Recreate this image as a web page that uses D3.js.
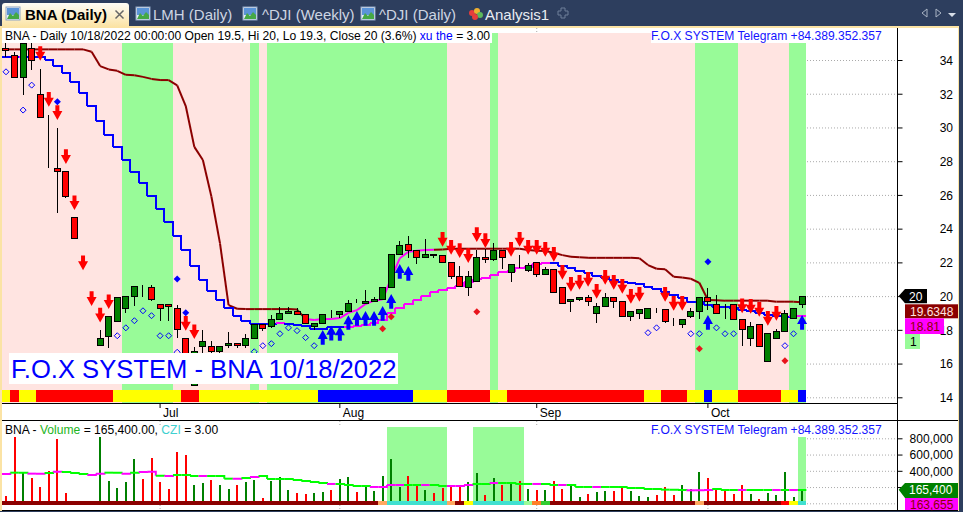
<!DOCTYPE html>
<html>
<head>
<meta charset="utf-8">
<script src="https://cdn.jsdelivr.net/npm/d3@7"></script>
<style>
html, body { margin: 0; padding: 0; background: #fff; overflow: hidden; }
svg { display: block; font-family: "Liberation Sans", Arial, sans-serif; }
</style>
</head>
<body>
<div id="chart"></div>
<script>
// bar data, oldest first
var opens = [34.69, 34.27, 32.97, 34.69, 31.96, 27.57, 27.57, 27.39, 24.67, 21.11,
    18.98, 17.06, 17.59, 18.48, 19.25, 19.99, 20.58, 20.52, 19.51, 19.51,
    19.28, 17.50, 14.69, 17.00, 17.02, 16.70, 17.06, 17.20, 17.06, 17.50,
    18.33, 18.21, 18.60, 18.98, 19.10, 18.92, 18.21, 18.39, 18.98, 18.92,
    19.07, 19.59, 19.57, 19.69, 19.81, 20.52, 22.45, 23.07, 22.71, 22.27,
    22.45, 22.42, 22.00, 21.17, 20.52, 20.88, 22.30, 22.18, 22.71, 21.41,
    21.88, 21.53, 22.00, 21.29, 21.59, 20.52, 19.69, 19.81, 19.93, 18.98,
    19.39, 19.93, 19.69, 18.80, 18.98, 18.68, 19.28, 19.22, 18.33, 18.33,
    18.80, 19.10, 19.93, 19.51, 19.47, 19.51, 18.62, 17.50, 18.33, 16.13,
    17.50, 17.91, 18.68, 19.5]
var highs = [35, 34.47, 35, 35, 33.46, 30.73, 29.94, 27.39, 24.67, 21.11,
    18.98, 17.99, 18.80, 19.93, 19.99, 20.58, 20.66, 20.66, 19.51, 19.51,
    19.47, 17.50, 17.00, 17.99, 17.34, 17.02, 17.87, 17.20, 17.75, 18.33,
    18.33, 18.88, 19.33, 19.33, 19.29, 18.92, 18.39, 18.92, 19.17, 19.10,
    19.77, 19.82, 20.36, 19.94, 20.52, 22.45, 23.24, 23.54, 22.71, 23.37,
    22.45, 22.42, 22.00, 21.76, 21.47, 22.73, 22.77, 23.13, 22.71, 21.88,
    22.42, 21.94, 22.00, 21.74, 21.59, 20.52, 19.81, 19.93, 20.05, 19.57,
    20.16, 19.93, 19.69, 19.10, 19.22, 19.28, 19.28, 19.22, 18.68, 18.62,
    19.28, 19.93, 20.46, 20.05, 19.51, 19.51, 18.62, 18.45, 18.33, 17.79,
    18.03, 19.16, 19.28, 20]
var lows = [34.17, 32.97, 31.92, 33.40, 30.60, 27.57, 24.94, 25.83, 23.42, 21.11,
    18.98, 17.06, 16.94, 18.48, 19.01, 19.43, 19.96, 19.71, 18.52, 18.52,
    17.53, 16.09, 14.69, 16.62, 16.62, 16.59, 16.94, 16.94, 16.94, 17.50,
    17.95, 18.09, 18.60, 18.98, 18.92, 18.39, 17.99, 18.39, 18.68, 18.68,
    19.07, 19.59, 19.57, 19.69, 19.81, 20.52, 22.45, 22.24, 21.92, 22.27,
    22.24, 22.00, 21.03, 20.58, 20.00, 20.88, 21.94, 22.06, 21.62, 20.85,
    21.64, 21.43, 21.15, 21.29, 20.22, 19.57, 19.04, 19.73, 19.41, 18.42,
    19.39, 19.31, 18.80, 18.54, 18.66, 18.68, 19.01, 18.40, 18.21, 18.09,
    18.68, 18.64, 19.17, 18.98, 18.64, 18.62, 17.04, 17.04, 17.02, 16.13,
    17.50, 17.91, 18.68, 19.3]
var closes = [34.57, 32.97, 35.00, 33.98, 30.60, 27.57, 27.39, 25.89, 23.42, 21.11,
    18.98, 17.50, 18.80, 19.93, 19.99, 20.58, 20.58, 19.81, 19.28, 19.39,
    18.03, 16.09, 16.73, 17.32, 16.70, 17.02, 17.20, 17.08, 17.50, 18.33,
    18.09, 18.62, 18.98, 19.10, 18.92, 18.39, 18.39, 18.92, 18.98, 19.10,
    19.57, 19.59, 19.69, 19.81, 20.52, 22.45, 23.01, 22.71, 22.27, 22.48,
    22.42, 22.00, 21.15, 20.58, 21.17, 22.30, 22.18, 22.71, 22.30, 21.88,
    21.88, 21.82, 21.29, 21.59, 20.22, 19.57, 19.81, 19.93, 19.69, 19.39,
    19.93, 19.69, 18.80, 19.10, 19.22, 19.28, 19.28, 18.48, 18.33, 18.62,
    19.10, 19.93, 19.69, 18.98, 19.47, 18.62, 18.03, 18.21, 17.02, 17.79,
    17.91, 18.98, 19.28, 20]

// the step line
var fastLine = [34.19, 34.19, 34.19, 34.19, 34.19, 33.98, 33.64, 33.20, 32.69, 32.02,
    31.27, 30.40, 29.55, 28.85, 28.07, 27.35, 26.68, 25.93, 25.16, 24.39,
    23.56, 22.73, 21.78, 20.95, 20.32, 19.77, 19.28, 18.82, 18.54, 18.34,
    18.34, 18.34, 18.40, 18.34, 18.28, 18.23, 18.07, 18.07, 18.17, 18.17,
    18.18, 18.21, 18.28, 18.42, 18.58, 19.01, 19.28, 19.53, 19.77, 20.00,
    20.22, 20.36, 20.46, 20.60, 20.85, 20.99, 21.09, 21.25, 21.44, 21.50,
    21.64, 21.74, 21.90, 21.98, 21.98, 21.78, 21.66, 21.50, 21.35, 21.21,
    21.05, 20.95, 20.85, 20.76, 20.72, 20.56, 20.40, 20.26, 20.06, 19.87,
    19.65, 19.65, 19.47, 19.37, 19.37, 19.28, 19.17, 19.11, 18.98, 18.88,
    18.84, 18.78, 18.82, 18.81]
var fastMagenta = [2, 32].concat(d3.range(40, 64), [92, 93])

// the long dark red line
var slowLine = [34.63, 34.63, 34.63, 34.63, 34.63, 34.63, 34.63, 34.63, 34.63, 34.63,
    34.49, 33.64, 33.44, 33.36, 33.12, 33.09, 33.00, 32.88, 32.81, 32.81,
    32.49, 31.27, 28.85, 28.07, 25.89, 23.13, 19.47, 19.25, 19.23, 19.23,
    19.23, 19.23, 19.23, 19.23, 19.20, 18.64, 18.58, 18.64, 18.64, 18.70,
    19.01, 19.17, 19.53, 19.73, 19.81, 21.07, 22.24, 22.63, 22.69, 22.73,
    22.75, 22.77, 22.81, 22.81, 22.81, 22.81, 22.81, 22.81, 22.81, 22.81,
    22.81, 22.73, 22.69, 22.67, 22.57, 22.43, 22.33, 22.30, 22.27, 22.27,
    22.27, 22.27, 22.27, 22.27, 22.24, 21.84, 21.62, 21.59, 21.15, 21.11,
    21.03, 20.79, 19.77, 19.75, 19.73, 19.73, 19.73, 19.73, 19.73, 19.73,
    19.67, 19.67, 19.67, 19.6348]
var slowMagenta = d3.range(36, 51)

// signals: [bar, price]
var sellArrows = [[4, 33.95], [5, 31.23], [6, 30.44], [7, 27.83], [8, 25.10], [9, 21.54], [10, 19.41], [11, 18.44], [12, 19.23],
    [21, 17.95], [22, 17.45], [51, 22.93], [52, 22.45], [53, 22.26], [54, 21.96], [55, 23.21], [56, 22.85],
    [59, 22.33], [60, 22.93], [61, 22.45], [62, 22.45], [63, 22.33], [64, 22.04], [65, 20.97], [66, 20.26],
    [67, 20.38], [68, 20.56], [69, 19.84], [70, 20.67], [71, 20.38], [72, 20.14], [73, 19.55], [74, 19.67],
    [77, 19.67], [78, 19.13], [79, 19.13], [86, 18.99], [87, 18.95], [88, 18.78], [89, 18.24], [90, 18.54]]
var buyArrows = [[37, 17.99], [38, 18.24], [39, 18.22], [40, 18.87], [41, 19.11], [42, 19.11], [43, 19.11], [44, 19.41],
    [45, 20.12], [46, 21.90], [47, 21.78], [82, 18.88], [93, 18.88]]
var hollowDiamonds = [[0, 33.30], [3, 32.51], [2, 31.03], [13, 17.65], [14, 18.12], [15, 18.54], [16, 19.13], [17, 18.84],
    [18, 17.65], [19, 17.65], [20, 16.67], [29, 16.70], [30, 17.06], [31, 17.18], [32, 17.77], [33, 18.12],
    [34, 17.95], [35, 17.54], [36, 17.06], [75, 17.83], [76, 18.12], [80, 17.77], [81, 17.77], [83, 18.12],
    [84, 17.77], [85, 17.77], [91, 17.06], [92, 17.77]]
var blueDiamonds = [[6, 31.52], [20, 21.01], [21, 19.01], [82, 22.04]]
var redDiamonds = [[44, 18.07], [45, 18.78], [55, 19.07], [81, 16.88], [91, 16.17]]

// background state per bar, runs of [first, last]
var greenRuns = [[14, 19], [29, 29], [31, 51], [57, 57], [81, 85], [92, 93]]
// ribbon under the price pane: [first, last, colour]
var ribbonRuns = [[0, 0, "#ffff00"], [1, 1, "#ff0000"], [2, 3, "#ffff00"], [4, 12, "#ff0000"], [13, 20, "#ffff00"],
    [21, 22, "#ff0000"], [23, 36, "#ffff00"], [37, 47, "#0000ff"], [48, 51, "#ffff00"], [52, 56, "#ff0000"],
    [57, 58, "#ffff00"], [59, 74, "#ff0000"], [75, 76, "#ffff00"], [77, 79, "#ff0000"], [80, 81, "#ffff00"],
    [82, 82, "#0000ff"], [83, 85, "#ffff00"], [86, 90, "#ff0000"], [91, 92, "#ffff00"], [93, 93, "#0000ff"]]

var volumes = [90000, 816000, 385000, 311000, 200000, 398000, 791000, 127000, 28000, 28000,
    20000, 816000, 274000, 188000, 262000, 545000, 299000, 558000, 262000, 176000,
    631000, 594000, 225000, 250000, 287000, 225000, 176000, 225000, 262000, 287000,
    65000, 274000, 324000, 164000, 127000, 114000, 127000, 139000, 164000, 299000,
    324000, 139000, 200000, 151000, 336000, 545000, 200000, 336000, 225000, 164000,
    127000, 188000, 225000, 213000, 262000, 373000, 102000, 311000, 225000, 262000,
    274000, 176000, 164000, 164000, 274000, 176000, 225000, 78000, 114000, 139000,
    151000, 151000, 200000, 151000, 90000, 78000, 102000, 200000, 102000, 225000,
    176000, 385000, 311000, 188000, 151000, 114000, 225000, 114000, 53000, 127000,
    102000, 385000, 78000, 165400]
var volumeColors = "rrgrrrrrrr" + "rgggggrrrr" + "rrggrggrgg" + "rgggrrggrg" + "grgggggrrg" +
    "rrrrggrgrg" + "rgrgrrggrg" + "grrgggrrrg" + "ggrrrrrgrg" + "gggg"
var volumeAvg = [361000, 377000, 377000, 365000, 365000, 373000, 389000, 385000, 373000, 361000,
    348000, 365000, 377000, 377000, 365000, 377000, 385000, 389000, 340000, 336000,
    348000, 348000, 336000, 336000, 336000, 336000, 303000, 303000, 311000, 324000,
    336000, 299000, 299000, 299000, 287000, 274000, 262000, 250000, 238000, 238000,
    225000, 213000, 213000, 201000, 201000, 225000, 225000, 225000, 225000, 225000,
    225000, 213000, 213000, 213000, 225000, 238000, 238000, 250000, 250000, 250000,
    238000, 238000, 238000, 238000, 225000, 225000, 225000, 201000, 201000, 201000,
    201000, 201000, 201000, 188000, 188000, 176000, 176000, 168000, 168000, 164000,
    160000, 160000, 164000, 176000, 164000, 164000, 164000, 164000, 164000, 164000,
    164000, 164000, 164000, 163655]
var avgMagenta = [0, 3, 4, 6, 10, 11, 14, 16, 17, 19, 23, 27, 29, 38, 43, 44, 45, 46, 49, 52, 53, 54, 57, 62, 65, 69, 80, 81, 82, 86, 90, 92]
var czGreenRuns = [[45, 51], [55, 60], [93, 93]]
var czRuns = [[0, 93, "#8b0000"], [44, 44, "#ffa860"], [45, 51, "#40e0d0"], [52, 52, "#ffa860"], [54, 54, "#ffff00"],
    [55, 60, "#40e0d0"], [61, 61, "#98fb98"], [62, 62, "#ff7f27"], [63, 63, "#32cd32"], [81, 81, "#ffa860"],
    [91, 91, "#ff0000"], [92, 92, "#ffff00"], [93, 93, "#40e0d0"]]

var priceTicks = [14, 16, 18, 20, 22, 24, 26, 28, 30, 32, 34]
var volumeTicks = [0, 200000, 400000, 600000, 800000]
var monthTicks = [[18, "Jul"], [39, "Aug"], [62, "Sep"], [82, "Oct"]]
var tabNames = [["LMH (Daily)", 153], ["^DJI (Weekly)", 262], ["^DJI (Daily)", 379]]

var width = 963, height = 512, axisX = 897.5

var svg = d3.select("#chart").append("svg").attr("width", width).attr("height", height)

var x = d3.scaleBand().domain(d3.range(opens.length)).range([1.72, 806.36])
var cx = function (i) { return x(i) + x.bandwidth() / 2 }
var y = d3.scaleLinear().domain([14, 34]).range([397.3, 60])
var yVol = d3.scaleLinear().domain([0, 800000]).range([503.3, 438.3])

function runRect(sel, run, top, bottom, fill) {
    sel.append("rect")
        .attr("x", x(run[0]))
        .attr("width", x.bandwidth() * (run[1] - run[0] + 1))
        .attr("y", top)
        .attr("height", bottom - top)
        .attr("fill", fill)
}

// grid under everything
var grid = svg.append("g").attr("stroke", "#aaa").attr("stroke-dasharray", "1,2")
priceTicks.forEach(function (t) {
    grid.append("line").attr("x1", 807).attr("x2", axisX).attr("y1", y(t) + .5).attr("y2", y(t) + .5)
})
volumeTicks.forEach(function (t) {
    grid.append("line").attr("x1", 807).attr("x2", axisX).attr("y1", yVol(t) + .5).attr("y2", yVol(t) + .5)
})
monthTicks.forEach(function (m) {
    [[28, 33], [421, 427], [505, 510]].forEach(function (s) {
        grid.append("line").attr("x1", cx(m[0])).attr("x2", cx(m[0])).attr("y1", s[0]).attr("y2", s[1])
    })
})

// price pane background
var bg = svg.append("g").attr("shape-rendering", "crispEdges")
runRect(bg, [0, 93], 33, 403, "#ffe4e1")
greenRuns.forEach(function (r) { runRect(bg, r, 33, 403, "#98fb98") })
ribbonRuns.forEach(function (r) { runRect(bg, r, 390, 402, r[2]) })

// volume pane
var vol = svg.append("g").attr("shape-rendering", "crispEdges")
czGreenRuns.forEach(function (r) { runRect(vol, r, 427, 505, "#98fb98") })

vol.selectAll("rect.v").data(volumes).enter().append("rect")
    .attr("class", "v")
    .attr("x", function (d, i) { return Math.round(cx(i)) - 1 })
    .attr("width", 2)
    .attr("y", function (d) { return yVol(d) })
    .attr("height", function (d) { return yVol(0) - yVol(d) })
    .attr("fill", function (d, i) { return volumeColors[i] === "g" ? "#008000" : "#ff0000" })

czRuns.forEach(function (r) { runRect(vol, r, 501, 505, r[2]) })

function stepPath(values, scale) {
    return function (d, i) {
        var next = i < values.length - 1 ? scale(values[i + 1]) : scale(d)
        return "M" + x(i) + "," + scale(d) + "H" + (x(i) + x.bandwidth()) + "V" + next
    }
}

svg.append("g").attr("fill", "none").attr("stroke-width", 2)
    .selectAll("path").data(volumeAvg).enter().append("path")
    .attr("d", stepPath(volumeAvg, yVol))
    .attr("stroke", function (d, i) { return avgMagenta.indexOf(i) !== -1 ? "#ff00ff" : "#00ff00" })

// long line first, the candles sit on top of it
var slow = svg.append("g").attr("fill", "none").attr("stroke-width", 2)
slow.selectAll("path").data(slowLine).enter().append("path")
    .attr("d", function (d, i) {
        var from = i === 0 ? [x(0), y(d)] : [cx(i - 1), y(slowLine[i - 1])]
        return d3.line()([from, [cx(i), y(d)]])
    })
    .attr("stroke", function (d, i) { return slowMagenta.indexOf(i) !== -1 ? "#ff00ff" : "#8b0000" })

svg.append("g").attr("fill", "none").attr("stroke-width", 2).attr("shape-rendering", "crispEdges")
    .selectAll("path").data(fastLine).enter().append("path")
    .attr("d", stepPath(fastLine, y))
    .attr("stroke", function (d, i) { return fastMagenta.indexOf(i) !== -1 ? "#ff00ff" : "#0000ff" })

// candles
var candles = svg.append("g").attr("shape-rendering", "crispEdges")
candles.selectAll("line").data(opens).enter().append("line")
    .attr("x1", function (d, i) { return Math.floor(cx(i)) + .5 })
    .attr("x2", function (d, i) { return Math.floor(cx(i)) + .5 })
    .attr("y1", function (d, i) { return y(highs[i]) })
    .attr("y2", function (d, i) { return y(lows[i]) })
    .attr("stroke", "#000")

candles.selectAll("rect").data(opens).enter().append("rect")
    .attr("x", function (d, i) { return Math.floor(cx(i)) - 3 + .5 })
    .attr("width", 6)
    .attr("y", function (d, i) { return y(Math.max(d, closes[i])) })
    .attr("height", function (d, i) { return Math.abs(y(d) - y(closes[i])) })
    .attr("fill", function (d, i) { return closes[i] > d ? "#008000" : "#ff0000" })
    .attr("stroke", "#000")

// arrows, tip at the value
var downArrow = "M0,0L-5,-9L-2,-9L-2,-14.7L2,-14.7L2,-9L5,-9Z"
var upArrow = "M0,0L-5,9L-2,9L-2,14.7L2,14.7L2,9L5,9Z"

svg.append("g").selectAll("path").data(sellArrows).enter().append("path")
    .attr("d", downArrow)
    .attr("fill", "#ff0000")
    .attr("transform", function (d) { return "translate(" + cx(d[0]) + "," + y(d[1]) + ")" })

svg.append("g").selectAll("path").data(buyArrows).enter().append("path")
    .attr("d", upArrow)
    .attr("fill", "#0000ff")
    .attr("transform", function (d) { return "translate(" + cx(d[0]) + "," + y(d[1]) + ")" })

var diamond = function (r) { return "M0," + -r + "L" + r + ",0L0," + r + "L" + -r + ",0Z" }

svg.append("g").selectAll("path").data(hollowDiamonds).enter().append("path")
    .attr("d", diamond(3))
    .attr("fill", "none")
    .attr("stroke", "#0000ff")
    .attr("transform", function (d) { return "translate(" + cx(d[0]) + "," + y(d[1]) + ")" })

svg.append("g").selectAll("path").data(blueDiamonds).enter().append("path")
    .attr("d", diamond(3.5))
    .attr("fill", "#0000ff")
    .attr("transform", function (d) { return "translate(" + cx(d[0]) + "," + y(d[1]) + ")" })

svg.append("g").selectAll("path").data(redDiamonds).enter().append("path")
    .attr("d", diamond(3.5))
    .attr("fill", "#e8141c")
    .attr("transform", function (d) { return "translate(" + cx(d[0]) + "," + y(d[1]) + ")" })

// big caption
svg.append("rect").attr("x", 9).attr("y", 353).attr("width", 389).attr("height", 31).attr("fill", "#fff")
svg.append("text").attr("x", 11).attr("y", 378)
    .attr("font-size", 25.6).attr("fill", "#0000ff")
    .text("F.O.X SYSTEM - BNA 10/18/2022")

// title strips
svg.append("rect").attr("x", 2).attr("y", 28).attr("width", 490).attr("height", 15).attr("fill", "#fff")
svg.append("rect").attr("x", 651).attr("y", 28).attr("width", 246).attr("height", 15).attr("fill", "#fff")
svg.append("rect").attr("x", 651).attr("y", 421).attr("width", 246).attr("height", 16).attr("fill", "#fff")

var title = svg.append("text").attr("x", 5).attr("y", 40).attr("font-size", 12.1).attr("fill", "#000")
title.append("tspan").text("BNA - Daily 10/18/2022 00:00:00 Open 19.5, Hi 20, Lo 19.3, Close 20 (3.6%) ")
title.append("tspan").attr("fill", "#0000ff").text("xu the")
title.append("tspan").text(" = 3.00")

var volTitle = svg.append("text").attr("x", 5).attr("y", 434).attr("font-size", 12.1).attr("fill", "#000")
volTitle.append("tspan").text("BNA - ")
volTitle.append("tspan").attr("fill", "#22b422").text("Volume")
volTitle.append("tspan").text(" = 165,400.00, ")
volTitle.append("tspan").attr("fill", "#40d0d0").text("CZI")
volTitle.append("tspan").text(" = 3.00")

svg.selectAll("text.tg").data([40, 434]).enter().append("text")
    .attr("class", "tg")
    .attr("x", 651).attr("y", function (d) { return d })
    .attr("font-size", 12.1).attr("fill", "#1414ff")
    .text("F.O.X SYSTEM Telegram +84.389.352.357")

// axes
var priceAxis = svg.append("g").attr("transform", "translate(" + axisX + ",0)")
    .call(d3.axisRight(y).tickValues(priceTicks).tickSize(5).tickFormat(d3.format("d")))
var volAxis = svg.append("g").attr("transform", "translate(" + axisX + ",0)")
    .call(d3.axisRight(yVol).tickValues(volumeTicks.slice(1)).tickSize(5).tickFormat(d3.format(",")))
;[priceAxis, volAxis].forEach(function (a) {
    a.select(".domain").remove()
    a.selectAll("text").attr("x", 55.5).attr("text-anchor", "end").attr("font-size", 12)
        .attr("font-family", "Liberation Sans").attr("dy", ".36em").attr("fill", "#000")
    a.selectAll("line").attr("stroke", "#000")
})

var monthAxis = svg.append("g").attr("transform", "translate(0,403)")
    .call(d3.axisBottom(x).tickValues(monthTicks.map(function (m) { return m[0] })).tickSize(5)
        .tickFormat(function (d) { return monthTicks.filter(function (m) { return m[0] === d })[0][1] }))
monthAxis.select(".domain").remove()
monthAxis.selectAll("line").attr("stroke", "#000")
monthAxis.selectAll("text").attr("x", 3).attr("y", 5).attr("text-anchor", "start").attr("font-size", 12)
    .attr("font-family", "Liberation Sans").attr("fill", "#000")

// frame lines
var frame = svg.append("g").attr("stroke", "#000").attr("shape-rendering", "crispEdges")
frame.append("line").attr("x1", axisX).attr("x2", axisX).attr("y1", 28).attr("y2", 511)
frame.append("line").attr("x1", 1).attr("x2", axisX).attr("y1", 403.5).attr("y2", 403.5)
frame.append("line").attr("x1", 1).attr("x2", 958).attr("y1", 420.5).attr("y2", 420.5)
frame.append("line").attr("x1", 1).attr("x2", 958).attr("y1", 510.5).attr("y2", 510.5)

// value tags on the axis
function tag(yPos, h, w, fill, textFill, label) {
    svg.append("rect").attr("x", 905).attr("y", yPos).attr("width", w).attr("height", h).attr("fill", fill)
    svg.append("text").attr("x", 910).attr("y", yPos + h / 2 + 4.5)
        .attr("font-size", 12).attr("fill", textFill).text(label)
}
function pointerTag(yPos, top, bottom, right, fill, label) {
    svg.append("path")
        .attr("d", "M898.7," + yPos + "L905," + top + "H" + right + "V" + bottom + "H905Z")
        .attr("fill", fill)
    svg.append("text").attr("x", 909).attr("y", yPos + 4.5).attr("font-size", 12).attr("fill", "#fff").text(label)
}
pointerTag(y(closes[93]), 289, 303.3, 927, "#000", "20")
tag(304.3, 14, 53, "#8b0000", "#ffe4e1", "19.6348")
tag(318.3, 15.7, 39, "#ff00ff", "#8b0000", "18.81")
tag(334, 15, 15, "#98fb98", "#000", "1")
pointerTag(yVol(165400), 483, 498, 958, "#008000", "165,400")
tag(498, 12, 53, "#ff00ff", "#8b0000", "163,655")

// window chrome
var chrome = svg.append("g")
chrome.append("rect").attr("width", width).attr("height", 26).attr("fill", "#2d3e5e")
chrome.append("rect").attr("y", 26).attr("width", width).attr("height", 2).attr("fill", "#fbe3a4")
chrome.append("rect").attr("y", 26).attr("width", 2).attr("height", height - 26).attr("fill", "#fbe3a4")
chrome.append("rect").attr("x", 958).attr("y", 0).attr("width", 5).attr("height", height).attr("fill", "#2d3e5e")
chrome.append("rect").attr("x", 958).attr("y", 26).attr("width", 1).attr("height", height - 26).attr("fill", "#fbe3a4")
chrome.append("rect").attr("y", 511).attr("width", width).attr("height", 1).attr("fill", "#2d3e5e")

var tabGrad = svg.append("defs").append("linearGradient").attr("id", "tabGrad").attr("x2", 0).attr("y2", 1)
tabGrad.append("stop").attr("offset", 0).attr("stop-color", "#fffdf6")
tabGrad.append("stop").attr("offset", 1).attr("stop-color", "#fbe3a4")
chrome.append("path").attr("d", "M2,27V6Q2,3 5,3H126Q129,3 129,6V27Z").attr("fill", "url(#tabGrad)")

function chartIcon(px) {
    chrome.append("rect").attr("x", px).attr("y", 7).attr("width", 14).attr("height", 13).attr("fill", "#e6eef8").attr("stroke", "#8ea4c4")
    chrome.append("rect").attr("x", px + 1).attr("y", 8).attr("width", 12).attr("height", 7).attr("fill", "#5b94d8")
    chrome.append("path").attr("d", "M" + (px + 1) + ",19L" + (px + 4) + ",13L" + (px + 7) + ",16L" + (px + 10) + ",12L" + (px + 13) + ",15V19Z").attr("fill", "#45a845")
}
;[6, 136, 243, 361].forEach(chartIcon)

chrome.append("text").attr("x", 25).attr("y", 20).attr("font-size", 15).attr("font-weight", "bold").attr("fill", "#000").text("BNA (Daily)")
chrome.append("path").attr("d", "M115.5,10.5L123.5,18.5M123.5,10.5L115.5,18.5").attr("stroke", "#666").attr("stroke-width", 1.5)

chrome.selectAll("text.tab").data(tabNames).enter().append("text")
    .attr("class", "tab").attr("x", function (d) { return d[1] }).attr("y", 20)
    .attr("font-size", 15).attr("fill", "#cdd5e2").text(function (d) { return d[0] })
chrome.append("text").attr("x", 485).attr("y", 20).attr("font-size", 15).attr("fill", "#e8ecf2").text("Analysis1")

// analysis icon
;[["#e63c3c", 472, 13], ["#f0b030", 477, 11], ["#5cb85c", 480, 15], ["#e63c3c", 475, 17]].forEach(function (c) {
    chrome.append("circle").attr("cx", c[1]).attr("cy", c[2]).attr("r", 3).attr("fill", c[0])
})
chrome.append("path").attr("d", "M558,11H561V8H565V11H568V15H565V18H561V15H558Z").attr("fill", "none").attr("stroke", "#6f7f99")

// scroll buttons
chrome.append("path").attr("d", "M927,9V17L922,13Z").attr("fill", "none").attr("stroke", "#aab4c4")
chrome.append("path").attr("d", "M936,9V17L941,13Z").attr("fill", "none").attr("stroke", "#aab4c4")
chrome.append("path").attr("d", "M948,13H956L952,17Z").attr("fill", "#d8dee8")
</script>
</body>
</html>
